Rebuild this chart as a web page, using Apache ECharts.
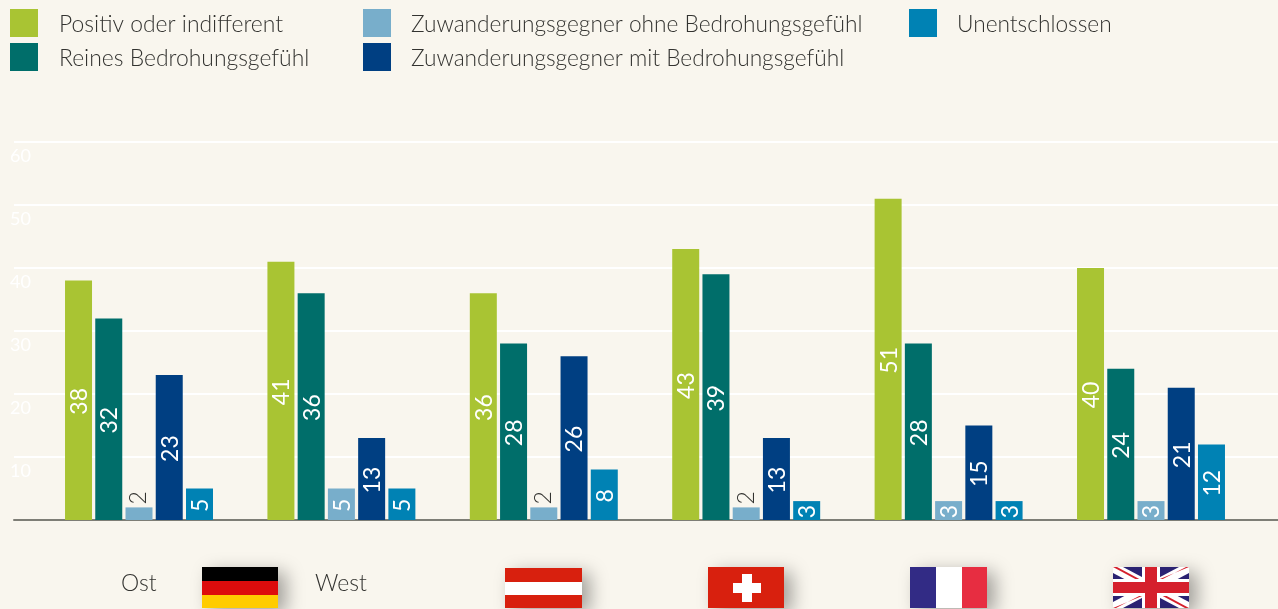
<!DOCTYPE html>
<html><head><meta charset="utf-8">
<style>html,body{margin:0;padding:0;background:#f9f6ee}#c{width:1278px;height:609px}</style>
<script src="https://cdn.jsdelivr.net/npm/echarts@6/dist/echarts.min.js"></script>
</head><body><div id="c"></div>
<script>
const categories = ['Deutschland Ost', 'Deutschland West', 'Österreich', 'Schweiz', 'Frankreich', 'Großbritannien'];
const positiv = [38, 41, 36, 43, 51, 40];
const bedrohung = [32, 36, 28, 39, 28, 24];
const gegnerOhne = [2, 5, 2, 2, 3, 3];
const gegnerMit = [23, 13, 26, 13, 15, 21];
const unentschlossen = [5, 5, 8, 3, 3, 12];
const names = ['Positiv oder indifferent', 'Reines Bedrohungsgefühl', 'Zuwanderungsgegner ohne Bedrohungsgefühl', 'Zuwanderungsgegner mit Bedrohungsgefühl', 'Unentschlossen'];
const colors = ['#a9c433', '#006e6a', '#78aecb', '#003f82', '#0082b4'];
const values = [positiv, bedrohung, gegnerOhne, gegnerMit, unentschlossen];

const FONT = 'Lato';
const INK = '#333330';
const chart = echarts.init(document.getElementById('c'), null, {renderer: 'canvas'});

function seriesFor(i) {
  return {
    name: names[i], type: 'bar', xAxisIndex: 1, yAxisIndex: 1,
    barWidth: 27, barGap: '12%',
    itemStyle: {color: colors[i]},
    label: {show: true, position: 'inside', rotate: 90, align: 'center', verticalAlign: 'middle',
      color: '#fff', fontFamily: FONT, fontSize: 23, fontWeight: 400, offset: [-1, 1]},
    data: values[i].map(v => v > 2 ? v : {
      value: v,
      label: {position: 'top', distance: 3, offset: [0, 0], rotate: 90, align: 'left', verticalAlign: 'middle', color: INK, fontWeight: 300}
    })
  };
}
function legendFor(left, data, pad, size) {
  return {left, top: 9, orient: 'vertical', itemWidth: 28, itemHeight: 28, itemGap: 6, padding: 0,
    icon: 'rect', selectedMode: false, data,
    formatter: name => '{t|' + name + '}',
    textStyle: {fontFamily: FONT, fontSize: size, fontWeight: 300, color: INK,
      rich: {t: {fontFamily: FONT, fontSize: size, fontWeight: 300, color: INK, padding: [3, 0, 0, pad]}}}};
}
function flagGroup(children, x, y, w, h) {
  return {type: 'group', x, y, silent: true, children: [
    {type: 'rect', shape: {x: 0, y: 0, width: w, height: h},
     style: {fill: '#fff', shadowBlur: 18, shadowOffsetX: 8, shadowOffsetY: 5, shadowColor: 'rgba(0,0,0,0.35)'}},
    ...children]};
}
const r = (x, y, width, height, fill) => ({type: 'rect', shape: {x, y, width, height}, style: {fill}});
const poly = (points, fill) => ({type: 'polygon', shape: {points}, style: {fill}});
const W = 76, H = 41;
const ukFlag = [
  r(0, 0, W, H, '#2a2272'),
  poly([[0,0],[10,0],[W,H-6],[W,H],[W-10,H],[0,6]], '#fff'),
  poly([[W,0],[W-10,0],[0,H-6],[0,H],[10,H],[W,6]], '#fff'),
  poly([[0,0],[4,0],[30,14],[26,14]], '#d5202c'),
  poly([[W,H],[W-4,H],[W-30,H-14],[W-26,H-14]], '#d5202c'),
  poly([[W,0],[W-3,0],[W-30,14],[W-34,14]], '#d5202c'),
  poly([[0,H],[3,H],[30,H-14],[34,H-14]], '#d5202c'),
  r(29, 0, 18, H, '#fff'), r(0, 12, W, 17, '#fff'),
  r(32, 0, 12, H, '#d5202c'), r(0, 15, W, 11, '#d5202c')
];

chart.setOption({
  backgroundColor: '#f9f6ee',
  animation: false,
  textStyle: {fontFamily: FONT},
  legend: [
    legendFor(10, [names[0], names[1]], 16, 22.9),
    legendFor(363, [names[2], names[3]], 15, 22.7),
    legendFor(909, [names[4]], 15, 22.7)
  ],
  grid: [
    {left: 14, right: 0, top: 142, height: 378},
    {left: 37.8, width: 1214.4, top: 142, height: 378}
  ],
  xAxis: [
    {gridIndex: 0, type: 'value', min: 0, max: 1, splitLine: {show: false}, axisTick: {show: false},
     axisLabel: {show: false}, axisLine: {show: true, lineStyle: {color: '#7e7e76', width: 2}}},
    {gridIndex: 1, type: 'category', data: categories, axisLine: {show: false}, axisTick: {show: false}, axisLabel: {show: false}}
  ],
  yAxis: [
    {gridIndex: 0, type: 'value', min: 0, max: 60, interval: 10, axisLine: {show: false}, axisTick: {show: false},
     splitLine: {lineStyle: {color: '#ffffff', width: 2}},
     axisLabel: {inside: true, margin: -4, showMinLabel: false, verticalAlign: 'top', padding: [5, 0, 0, 0],
       color: '#ffffff', fontFamily: FONT, fontSize: 18, fontWeight: 400}},
    {gridIndex: 1, type: 'value', min: 0, max: 60, interval: 10, show: false}
  ],
  series: values.map((_, i) => seriesFor(i)),
  graphic: [
    {type: 'text', x: 121, y: 572, silent: true, style: {text: 'Ost', font: '300 23px Lato', fill: INK}},
    {type: 'text', x: 315, y: 572, silent: true, style: {text: 'West', font: '300 23px Lato', fill: INK}},
    flagGroup([r(0,0,W,14,'#000'), r(0,14,W,14,'#dd0c0c'), r(0,28,W,13,'#ffcc00')], 202, 567, W, H),
    flagGroup([r(0,0,77,14,'#d8200e'), r(0,14,77,13,'#fff'), r(0,27,77,13,'#d8200e')], 505, 568, 77, 40),
    flagGroup([r(0,0,W,H,'#d8200e'), r(25,16,28,10,'#fff'), r(34,7,10,28,'#fff')], 708, 567, W, H),
    flagGroup([r(0,0,26,H,'#322b85'), r(26,0,26,H,'#fff'), r(52,0,25,H,'#e72d41')], 910, 567, 77, H),
    flagGroup(ukFlag, 1113, 567, W, H)
  ]
});
</script></body></html>
